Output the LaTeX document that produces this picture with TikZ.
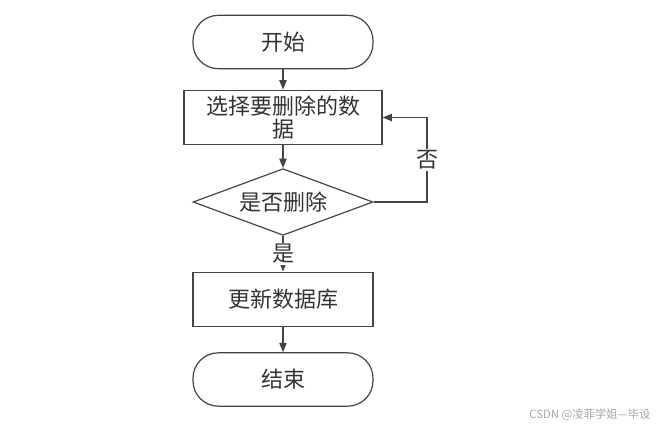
\documentclass[tikz,border=0pt]{standalone}
\usepackage{fontspec}
\setmainfont{Noto Sans CJK SC}
\usepackage{xcolor}
\usetikzlibrary{arrows.meta,shapes.geometric}

\definecolor{linegray}{HTML}{444444}
\definecolor{textgray}{HTML}{333333}

\begin{document}
\begin{tikzpicture}[
  x=0.75pt, y=-0.75pt,
  font=\fontsize{16.5}{17.5}\selectfont,
  >={Triangle[length=7pt,width=5.5pt]},
  flowbox/.style={draw=linegray, line width=0.9pt, align=center, text=textgray, inner sep=2pt},
  term/.style={flowbox, rounded corners=19pt, minimum width=135pt, minimum height=40pt},
  proc/.style={flowbox, minimum width=135pt, minimum height=41pt},
  decide/.style={flowbox, diamond, aspect=2.7, inner sep=0pt, minimum width=135pt, minimum height=50pt},
  arr/.style={->, draw=linegray, line width=0.9pt},
  lbl/.style={fill=white, text=textgray, inner sep=1pt}
]
\useasboundingbox (0,0) rectangle (665,429);
\node[term] (start) at (283,42) {开始};
\node[proc, minimum width=148.5pt] (sel) at (283,117.5) {选择要删除的数\\据};
\node[decide] (dec) at (283,202) {是否删除};
\node[proc] (upd) at (283,299.5) {更新数据库};
\node[term] (stop) at (283,379.5) {结束};
\coordinate (loop) at (427,202);
\draw[arr] (start) -- (sel);
\draw[arr] (sel) -- (dec);
\draw[arr] (dec.east) -- (loop) |- (sel.east) node[lbl, pos=0.25] {否};
\draw[arr] (dec) -- (upd) node[lbl, midway] {是};
\draw[arr] (upd) -- (stop);
\node[text=gray!70, font=\fontsize{8.5}{10}\selectfont] (mark) at (590,415) {CSDN @凌菲学姐—毕设};
\end{tikzpicture}
\end{document}
